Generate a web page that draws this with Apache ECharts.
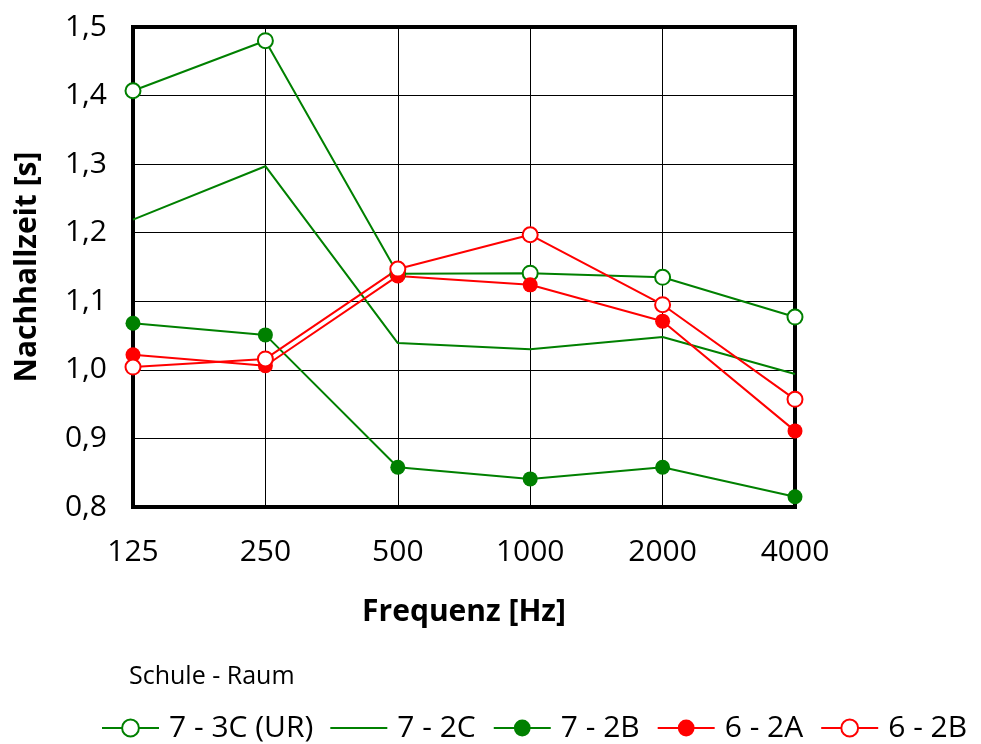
<!DOCTYPE html>
<html><head><meta charset="utf-8">
<script src="https://cdn.jsdelivr.net/npm/echarts@6/dist/echarts.min.js"></script>
<style>html,body{margin:0;padding:0;background:#fff}#c{width:981px;height:744px}</style>
</head><body><div id="c"></div>
<script>
const categories = ['125','250','500','1000','2000','4000'];
const s73C = [1.407, 1.480, 1.140, 1.141, 1.135, 1.077];
const s72C = [1.219, 1.297, 1.039, 1.030, 1.048, 0.994];
const s72B = [1.068, 1.051, 0.858, 0.841, 0.858, 0.815];
const s62A = [1.022, 1.006, 1.137, 1.124, 1.071, 0.911];
const s62B = [1.004, 1.016, 1.147, 1.197, 1.095, 0.957];
const names = ['7 - 3C (UR)', '7 - 2C', '7 - 2B', '6 - 2A', '6 - 2B'];
const GREEN = '#008000', RED = '#ff0000';
const FONT = 'Open Sans';

function mk(name, data, color, kind) {
  const s = {name, type:'line', data, lineStyle:{color, width:2}, itemStyle:{color}, z:3};
  if (kind === 'none') { s.symbol = 'none'; }
  else if (kind === 'open') {
    s.symbol = 'circle'; s.symbolSize = 15;
    s.itemStyle = {color:'#fff', borderColor:color, borderWidth:2};
  } else {
    s.symbol = 'circle'; s.symbolSize = 15;
    s.itemStyle = {color, borderColor:color, borderWidth:0};
  }
  return s;
}

const legendData = names.map(n => n === '7 - 2C'
  ? {name:n, icon:'path://M0,0H57V2H0Z', itemStyle:{color:GREEN, borderWidth:0}}
  : {name:n});

const chart = echarts.init(document.getElementById('c'), null, {renderer:'canvas'});
chart.setOption({
  animation:false,
  backgroundColor:'#fff',
  textStyle:{fontFamily:FONT},
  title:{text:'Schule - Raum', left:129, top:664, padding:0, textStyle:{fontFamily:FONT, fontSize:25, fontWeight:'normal', color:'#000'}},
  legend:{
    data:legendData, left:96, top:708, itemWidth:57, itemHeight:21, itemGap:17,
    textStyle:{fontFamily:FONT, fontSize:30, color:'#000', padding:[0,0,0,5]}
  },
  grid:{left:133, right:186, top:27, bottom:237, show:true, borderColor:'#000', borderWidth:4, containLabel:false},
  xAxis:{
    type:'category', data:categories, boundaryGap:false,
    name:'Frequenz [Hz]', nameLocation:'middle', nameGap:90,
    nameTextStyle:{fontFamily:FONT, fontSize:30, fontWeight:'bold', color:'#000'},
    axisLine:{show:false}, axisTick:{show:false},
    axisLabel:{fontFamily:FONT, fontSize:30, color:'#000', margin:30},
    splitLine:{show:true, lineStyle:{color:'#000', width:1}}
  },
  yAxis:{
    type:'value', min:0.8, max:1.5, interval:0.1,
    name:'Nachhallzeit [s]', nameLocation:'middle', nameGap:91,
    nameTextStyle:{fontFamily:FONT, fontSize:30, fontWeight:'bold', color:'#000'},
    axisLine:{show:false}, axisTick:{show:false},
    axisLabel:{fontFamily:FONT, fontSize:30, color:'#000', margin:26,
      formatter:v=>v.toFixed(1).replace('.',',')},
    splitLine:{show:true, lineStyle:{color:'#000', width:1}}
  },
  series:[
    mk(names[0], s73C, GREEN, 'open'),
    mk(names[1], s72C, GREEN, 'none'),
    mk(names[2], s72B, GREEN, 'filled'),
    mk(names[3], s62A, RED, 'filled'),
    mk(names[4], s62B, RED, 'open')
  ]
});
</script></body></html>
